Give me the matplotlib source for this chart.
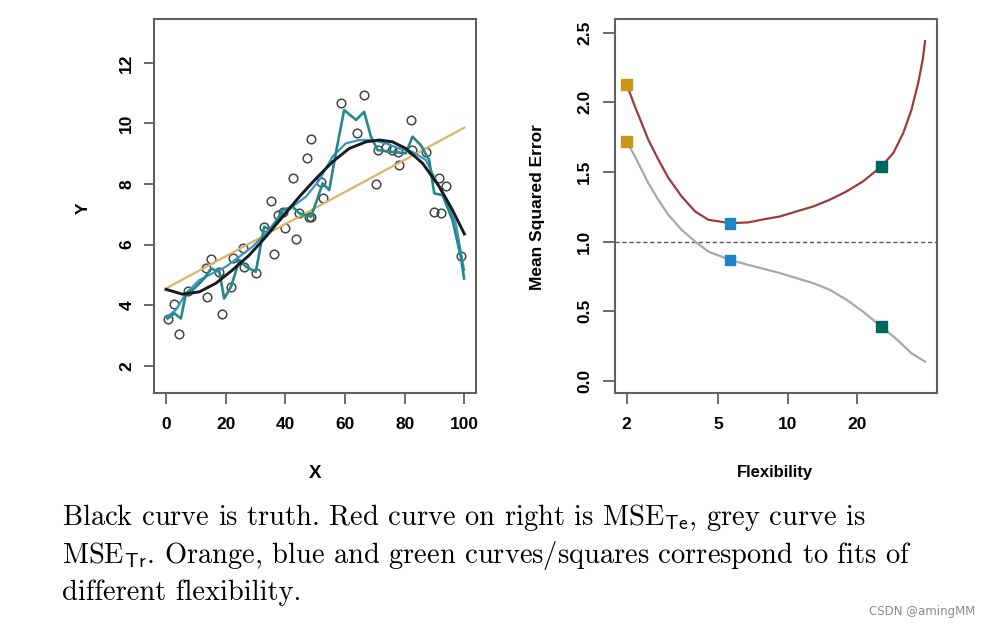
import numpy as np
import matplotlib.pyplot as plt

plt.rcParams['mathtext.fontset'] = 'cm'

# left panel: simulated data and fits
pts_x = [0.6, 2.8, 4.5, 7.3, 13.9, 13.4, 15.1, 17.6, 18.8, 21.8, 22.3, 25.9, 26.2,
         30.1, 32.9, 35.2, 36.3, 37.4, 39.1, 40.0, 42.4, 43.5, 44.7, 47.2, 48.6,
         48.0, 48.7, 51.9, 52.5, 58.6, 63.9, 66.2, 70.3, 70.9, 73.7, 75.9, 77.6,
         78.2, 82.1, 82.6, 87.1, 91.6, 93.8, 89.9, 92.1, 98.8]
pts_y = [3.53, 4.04, 3.05, 4.48, 4.28, 5.21, 5.51, 5.10, 3.70, 4.61, 5.56, 5.87, 5.27,
         5.07, 6.59, 7.45, 5.69, 6.97, 7.08, 6.53, 8.20, 6.17, 7.03, 8.84, 9.50,
         6.92, 6.90, 8.07, 7.52, 10.68, 9.69, 10.93, 8.00, 9.12, 9.23, 9.12, 9.06,
         8.62, 10.11, 9.12, 9.06, 8.18, 7.93, 7.08, 7.03, 5.63]

truth_x = [0, 5.6, 11.2, 16.7, 22.3, 27.9, 33.5, 39.1, 44.7, 50.3, 55.8, 61.4,
           67.0, 71.5, 75.9, 80.4, 86.0, 91.6, 96.0, 100]
truth_y = [4.52, 4.36, 4.44, 4.72, 5.16, 5.65, 6.26, 6.92, 7.58, 8.18, 8.73, 9.17,
           9.39, 9.45, 9.39, 9.17, 8.68, 7.91, 7.14, 6.35]

lin_x = [0, 100]
lin_y = [4.55, 9.86]

blue_x = [0.2, 3.3, 6.7, 11.2, 15.6, 20.1, 24.6, 29.0, 33.5, 38.0, 42.4, 46.9,
          51.4, 55.8, 60.3, 64.8, 69.2, 73.7, 78.2, 82.6, 87.1, 90.4, 93.8, 97.1, 99.9]
blue_y = [3.60, 3.84, 4.39, 4.83, 5.05, 5.27, 5.60, 5.93, 6.37, 6.92, 7.25, 7.58,
          8.13, 8.90, 9.34, 9.45, 9.45, 9.34, 9.17, 9.06, 8.79, 8.13, 7.47, 6.70, 5.16]

teal_x = [0.55, 2.8, 5.0, 6.7, 9.5, 12.8, 15.1, 17.9, 19.5, 21.8, 24.6, 26.8, 30.1,
          32.9, 35.2, 39.1, 42.4, 44.7, 48.6, 50.2, 52.5, 54.7, 56.9, 59.7, 63.7,
          66.4, 68.7, 70.9, 75.9, 80.4, 82.6, 85.4, 88.2, 89.9, 92.7, 96.0, 98.8, 99.9]
teal_y = [3.56, 3.73, 3.56, 4.39, 4.55, 4.88, 5.21, 5.10, 4.22, 4.61, 5.49, 5.27, 5.10,
          6.59, 6.48, 7.14, 7.25, 7.03, 6.92, 7.36, 8.02, 7.80, 9.01, 10.44, 10.11,
          10.38, 9.56, 9.12, 9.06, 9.01, 9.56, 9.28, 8.79, 7.69, 7.63, 6.81, 5.60, 4.88]

# right panel: MSE vs flexibility
flex_te = [2.0, 2.17, 2.32, 2.48, 2.74, 3.03, 3.46, 3.96, 4.52, 5.61, 6.73, 7.96,
           9.25, 10.9, 12.9, 15.2, 18.0, 21.2, 25.5, 28.7, 31.7, 34.4, 36.8, 38.5, 39.4]
mse_test = [2.127, 1.971, 1.852, 1.732, 1.590, 1.458, 1.324, 1.216, 1.156, 1.132,
            1.137, 1.161, 1.180, 1.216, 1.252, 1.300, 1.360, 1.432, 1.540, 1.636,
            1.780, 1.947, 2.140, 2.307, 2.439]
flex_tr = [2.0, 2.17, 2.32, 2.48, 2.74, 3.03, 3.46, 3.96, 4.52, 5.61, 6.73, 7.96,
           9.25, 10.9, 12.9, 15.2, 18.0, 21.2, 25.5, 29.9, 34.4, 39.4]
mse_train = [1.719, 1.612, 1.516, 1.420, 1.300, 1.192, 1.084, 1.000, 0.928, 0.868,
             0.832, 0.801, 0.773, 0.737, 0.701, 0.653, 0.581, 0.496, 0.388, 0.293,
             0.197, 0.137]
sq_flex = [2.0, 5.61, 25.5]
sq_test = [2.127, 1.132, 1.540]
sq_train = [1.719, 0.868, 0.388]
sq_colors = ['#c9961a', '#1d86c6', '#00685a']

fig = plt.figure(figsize=(9.87, 6.3), dpi=100)
frame = '#606060'
tickfont = dict(family='Liberation Sans', size=12.5, weight='bold')

ax1 = fig.add_axes([0.1565, 0.3757, 0.3258, 0.5949])
ax1.plot(pts_x, pts_y, 'o', mfc='none', mec='#454545', ms=6.2, mew=1.1)
ax1.plot(lin_x, lin_y, color='#d6b66a', lw=1.6)
ax1.plot(blue_x, blue_y, color='#3596c4', lw=1.6)
ax1.plot(teal_x, teal_y, color='#22888a', lw=1.9)
ax1.plot(truth_x, truth_y, color='#1a1a1a', lw=2.1)
ax1.set_xlim(-3.86, 103.9)
ax1.set_ylim(1.09, 13.46)
ax1.set_xticks([0, 20, 40, 60, 80, 100])
ax1.set_yticks([2, 4, 6, 8, 10, 12])
ax1.tick_params(axis='x', length=8, width=1.3, color=frame, pad=9)
ax1.tick_params(axis='y', length=7.5, width=1.3, color=frame, pad=7)
for lab in ax1.get_xticklabels():
    lab.set(**tickfont)
for lab in ax1.get_yticklabels():
    lab.set(**tickfont)
    lab.set_rotation(90)
    lab.set_va('center')

ax2 = fig.add_axes([0.6231, 0.3757, 0.3265, 0.5949])
ax2.axhline(1.0, color='#555555', lw=1.0, ls=(0, (3, 2)))
ax2.plot(flex_te, mse_test, color='#9e3a3a', lw=1.6)
ax2.plot(flex_tr, mse_train, color='#a8a8a8', lw=1.6)
ax2.scatter(sq_flex, sq_test, marker='s', s=60, c=sq_colors, zorder=3)
ax2.scatter(sq_flex, sq_train, marker='s', s=60, c=sq_colors, zorder=3)
ax2.set_xscale('log')
ax2.set_xlim(1.779, 44.5)
ax2.set_ylim(-0.0906, 2.602)
ax2.set_xticks([2, 5, 10, 20])
ax2.set_xticklabels(['2', '5', '10', '20'])
ax2.minorticks_off()
ax2.set_yticks([0.0, 0.5, 1.0, 1.5, 2.0, 2.5])
ax2.set_yticklabels(['0.0', '0.5', '1.0', '1.5', '2.0', '2.5'])
ax2.tick_params(axis='x', length=8, width=1.3, color=frame, pad=9)
ax2.tick_params(axis='y', length=8.5, width=1.3, color=frame, pad=8)
for lab in ax2.get_xticklabels():
    lab.set(**tickfont)
for lab in ax2.get_yticklabels():
    lab.set(**tickfont)
    lab.set_rotation(90)
    lab.set_va('center')

for ax in (ax1, ax2):
    for s in ax.spines.values():
        s.set_color(frame)
        s.set_linewidth(1.5)

lblfont = dict(family='Liberation Sans', weight='bold', ha='center', va='center')
fig.text(315 / 987, 1 - 473 / 630, 'X', size=13.5, **lblfont)
fig.text(83 / 987, 1 - 208 / 630, 'Y', size=12.5, rotation=90, **lblfont)
fig.text(775 / 987, 1 - 473 / 630, 'Flexibility', size=12, **lblfont)
fig.text(538 / 987, 1 - 207 / 630, 'Mean Squared Error', size=12.5, rotation=90, **lblfont)

# caption
cap = dict(family='cmr10', size=20.5, ha='left', va='baseline')
fig.text(62 / 987, 1 - 525 / 630,
         r'Black curve is truth. Red curve on right is MSE$_{\mathbf{\mathsf{Te}}}$, grey curve is', **cap)
fig.text(62 / 987, 1 - 563 / 630,
         r'MSE$_{\mathbf{\mathsf{Tr}}}$. Orange, blue and green curves/squares correspond to fits of', **cap)
fig.text(62 / 987, 1 - 600 / 630, 'different flexibility.', **cap)

fig.text(975 / 987, 1 - 612 / 630, 'CSDN @amingMM', family='DejaVu Sans', size=8.5,
         color='#8a8a8a', ha='right', va='center')

fig.savefig('out.png', dpi=100)
